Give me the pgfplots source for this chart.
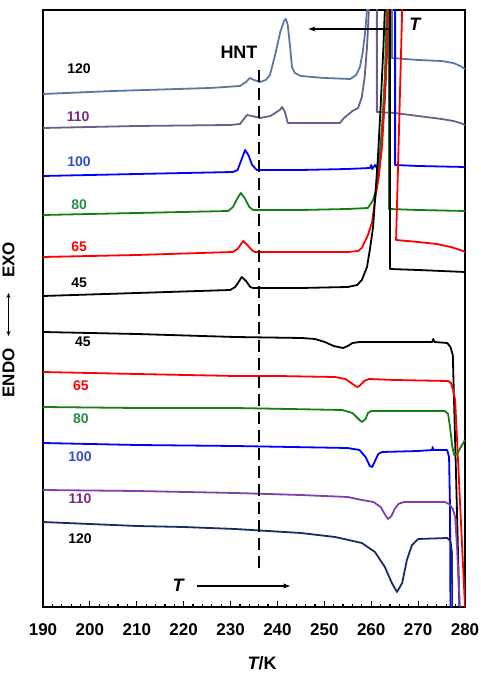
\documentclass[border=0pt]{standalone}
\usepackage{pgfplots}
\pgfplotsset{compat=1.18}
\usepackage{fontspec}
\setmainfont{Liberation Sans}
\usetikzlibrary{arrows.meta}

\definecolor{cSteel}{RGB}{88,122,162}
\definecolor{cGreyPurple}{RGB}{108,94,140}
\definecolor{cPurple}{RGB}{128,64,168}
\definecolor{cNavy}{RGB}{25,45,95}
\definecolor{cGreen}{RGB}{20,128,20}
\definecolor{cBlue}{RGB}{0,0,255}
\definecolor{cRed}{RGB}{255,0,0}
\definecolor{lBlue}{RGB}{50,80,200}
\definecolor{lGreen}{RGB}{40,140,70}
\definecolor{lPurple}{RGB}{125,40,130}

\begin{document}
\begin{tikzpicture}
\useasboundingbox (-43pt,-67pt) rectangle (437pt,607pt);
\begin{axis}[
  scale only axis, width=422pt, height=597pt,
  at={(0pt,0pt)}, anchor=south west,
  xmin=190, xmax=280, ymin=0, ymax=597,
  xtick={190,200,...,280}, minor x tick num=4,
  ytick=\empty,
  xtick pos=bottom, tick align=inside,
  major tick length=6pt, minor tick length=3.5pt,
  tick style={black, line width=1.2pt},
  axis line style={line width=1.7pt},
  tick label style={font=\fontsize{17}{17}\selectfont\bfseries},
  /pgf/number format/assume math mode=true,
  /pgf/number format/1000 sep={},
  xticklabel style={yshift=-13pt},
  every axis plot/.append style={line width=1.8pt, line join=round},
]
% ---------------- cooling runs (exotherms up) ----------------
% 120
\addplot[cSteel] coordinates {
(190,513) (205,516) (225.6,519) (232.0,521) (233.3,525) (234.1,529) (235.0,527)
(236.3,525) (237.5,527) (238.4,532) (239.5,552) (240.6,575) (241.4,586) (241.8,588)
(242.2,582) (242.7,560) (243.1,540) (243.7,534) (245,531) (250,529) (255.5,528)
(256.8,532) (257.6,540) (258.2,555) (258.7,575) (259.1,597) (259.3,640)
(264.4,640) (264.4,549) (270,547) (275,546) (277.5,544) (279,541) (280,538)};
% 110
\addplot[cGreyPurple] coordinates {
(190,479) (210,481) (229.9,482) (232,483) (233.5,492) (234.5,491) (236.3,489)
(238.5,491) (240.5,497) (241.0,500) (241.6,495) (242.2,484) (243,484) (250,484)
(253.3,484) (254.2,489) (256.0,496) (257.2,499) (258.0,510) (258.6,530) (259.1,560)
(259.5,597) (259.7,640) (261.2,640) (261.2,495) (265,494) (270,491) (275,488)
(277.5,486) (279,484) (280,482)};
% 100
\addplot[cBlue] coordinates {
(190,431) (210,433) (230.5,435) (231.5,437) (232.3,447) (233.1,457) (233.8,452)
(234.6,442) (235.6,437) (245,437) (255,438) (259.7,439) (260.0,442) (260.2,438)
(260.8,442) (261.2,439) (261.8,450) (262.3,470) (262.9,510) (263.4,560) (263.8,597)
(264.0,640) (265.1,640) (265.1,442) (270,441) (280,440)};
% 80
\addplot[cGreen] coordinates {
(190,392) (210,394) (229.5,396) (230.5,400) (231.5,409) (232.2,414) (233,409)
(234,400) (234.8,397) (245,397) (255,398) (259.3,399) (260.4,407) (261.2,420)
(261.6,440) (262.3,480) (262.9,530) (263.3,597) (263.5,640) (263.8,640)
(263.8,398) (270,397) (280,396)};
% 65
\addplot[cRed] coordinates {
(190,350) (210,352) (230.5,355) (231.5,358) (232.7,366) (233.6,362) (234.5,357)
(235.2,355) (245,355) (255,355) (257.2,356) (258.0,359) (259.3,372) (260.2,385)
(260.8,407) (261.6,430) (262.3,460) (262.9,510) (263.4,560) (263.6,597) (263.7,640)
(266.8,640) (266.6,597) (265.3,367) (270,365) (274,363) (277,360) (279,357) (280,355)};
% 45
\addplot[black] coordinates {
(190,311) (210,314) (229.9,317) (231.0,320) (232.4,330) (233.3,326) (234.2,320)
(234.8,319) (245,319) (255,320) (257.0,322) (258.0,327) (259.1,340) (259.7,357)
(260.4,380) (260.8,407) (261.4,447) (262.0,500) (262.6,560) (262.9,597) (263.0,640)
(264.0,640) (264.0,338) (270,337) (280,335)};
% ---------------- heating runs (endotherms down) ----------------
% 45
\addplot[black] coordinates {
(190,275) (210,273) (230.9,270) (245.2,269) (248,268) (250.1,265) (252,261)
(254.0,259) (255.0,261) (256,264) (257.5,265) (265,265) (273.0,265) (273.2,268)
(273.5,265) (276.2,264) (276.9,260) (277.4,252) (278.1,130) (278.8,0)};
% 65
\addplot[cRed] coordinates {
(190,235) (210,233) (231,231) (240,231) (252.3,230) (254.5,228) (256,223)
(257.0,220) (257.5,221) (258.5,226) (259.5,228) (265,227) (276.4,226) (277.0,224)
(277.4,218) (277.9,207) (280,0)};
% 80
\addplot[cGreen] coordinates {
(190,200) (210,199) (231,199) (253.8,197) (256,194) (257.5,187) (258.0,185)
(258.8,188) (259.3,194) (260,196) (275.7,196) (276.4,193) (276.8,180) (277.3,160)
(277.7,152) (278.3,153) (279,159) (280,167)};
% 100
\addplot[cBlue] coordinates {
(190,164) (210,162) (231,161) (255,159) (257.5,157) (258.8,150) (259.7,141)
(260.2,140) (260.8,146) (261.5,153) (262.3,155) (270,156) (273,157) (273.1,160)
(273.2,157) (276.2,157) (276.6,150) (276.8,100) (276.9,0)};
% 110
\addplot[cPurple] coordinates {
(190,117) (210,116) (231,114) (245,112) (255,110) (258,107) (260.5,105) (262.0,100)
(263.0,92) (263.6,88) (264.3,91) (265,98) (265.8,103) (267,105) (275.7,105)
(276.6,103) (277.4,98) (277.9,90) (278.3,60) (278.9,0)};
% 120
\addplot[cNavy] coordinates {
(190,85) (200,83) (210,81) (220,80) (231,78) (245,74) (252.3,70) (258,64)
(260.8,55) (262.9,40) (264.4,24) (265.5,15) (266.6,24) (267.6,47) (268.7,62)
(270.0,68) (276.2,69) (276.9,66) (277.2,55) (277.3,0)};

% homogeneous nucleation temperature
\draw[line width=1.6pt, dash pattern=on 12pt off 6pt] (axis cs:236.1,537) -- (axis cs:236.1,37);
\node[font=\fontsize{18}{18}\selectfont\bfseries] at (axis cs:231.8,555) {HNT};

% scan direction arrows
\draw[line width=1.3pt, -{Stealth[length=7pt,width=5pt]}] (axis cs:263.8,578) -- (axis cs:246.6,578);
\node[font=\fontsize{18}{18}\selectfont\bfseries\itshape] at (axis cs:269.3,583) {T};
\draw[line width=1.3pt, -{Stealth[length=7pt,width=5pt]}] (axis cs:222.8,21) -- (axis cs:242.7,21);
\node[font=\fontsize{18}{18}\selectfont\bfseries\itshape] at (axis cs:218.8,22) {T};

% run labels, cooling
\begin{scope}[every node/.style={font=\fontsize{14}{14}\selectfont\bfseries}]
\node[black]   at (axis cs:197.7,538) {120};
\node[lPurple] at (axis cs:197.5,490) {110};
\node[lBlue]   at (axis cs:197.7,445) {100};
\node[lGreen]  at (axis cs:197.7,402) {80};
\node[cRed]    at (axis cs:197.7,360) {65};
\node[black]   at (axis cs:197.7,324) {45};
% run labels, heating
\node[black]   at (axis cs:198.5,265) {45};
\node[cRed]    at (axis cs:198.1,221) {65};
\node[lGreen]  at (axis cs:198.1,188) {80};
\node[lBlue]   at (axis cs:197.9,150) {100};
\node[lPurple] at (axis cs:197.9,108) {110};
\node[black]   at (axis cs:197.9,68)  {120};
\end{scope}
\end{axis}

% axis titles
\node[font=\fontsize{18}{18}\selectfont\bfseries] at (219pt,-56pt) {\itshape T\upshape/K};
\node[rotate=90, font=\fontsize{17}{17}\selectfont\bfseries] at (-34.5pt,234pt) {ENDO};
\node[rotate=90, font=\fontsize{17}{17}\selectfont\bfseries] at (-34.5pt,347pt) {EXO};
\draw[line width=0.8pt, {Stealth[length=5pt,width=4pt]}-{Stealth[length=5pt,width=4pt]}] (-34.5pt,271pt) -- (-34.5pt,314pt);
\end{tikzpicture}
\end{document}
